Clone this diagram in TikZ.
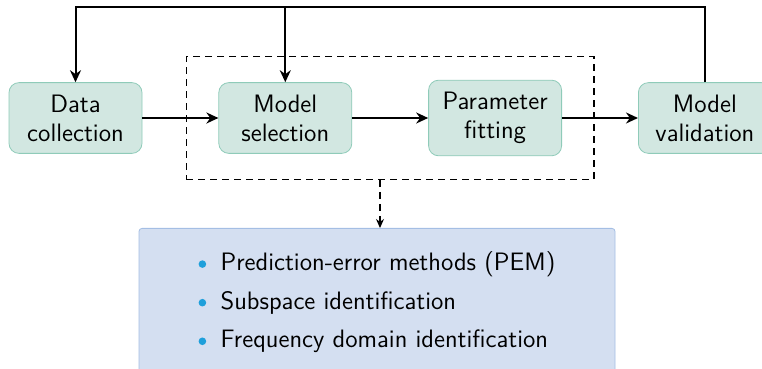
\documentclass[tikz,border=0pt]{standalone}
\usepackage{tikz}
\usetikzlibrary{arrows.meta, positioning, fit}
\usepackage{xcolor}

\definecolor{stagefill}{HTML}{D2E7E1}
\definecolor{stagedraw}{HTML}{8FCBB9}
\definecolor{listfill}{HTML}{D4DFF1}
\definecolor{listdraw}{HTML}{A4BEE4}
\definecolor{bulletblue}{HTML}{1E9FDB}

\newcommand{\itembullet}{\makebox[11pt][l]{\raisebox{0.25ex}{\tikz\fill[bulletblue] (0,0) circle (1.9pt);}}}

\begin{document}
\begin{tikzpicture}[
    x=1pt, y=1pt,
    font=\fontsize{12.6}{14.5}\selectfont\sffamily,
    node distance=38pt,
    stage/.style={rectangle, draw=stagedraw, fill=stagefill, rounded corners=5pt, align=center, minimum width=66.5pt, inner ysep=6pt},
    group/.style={draw, line width=0.65pt, dash pattern=on 3.5pt off 2.5pt, inner xsep=16pt, inner ysep=11.5pt},
    listbox/.style={rectangle, draw=listdraw, fill=listfill, rounded corners=1.5pt, align=left, minimum width=238pt, minimum height=74pt},
    arrow/.style={-{Stealth[length=6pt,width=5.5pt]}, line width=1pt}
]
\useasboundingbox (0,0) rectangle (381,-184.5);
\clip (0,0) rectangle (381,-184.5);

\node (data) [stage] at (37.75,-59) {Data\\collection};
\node (select) [stage, right=of data] {Model\\selection};
\node (param) [stage, right=of select] {Parameter\\fitting};
\node (valid) [stage, right=of param] {Model\\validation};

\node (group) [group, fit=(select)(param)] {};

\node (methods) [listbox, anchor=north] at (188.5,-114) {%
  \itembullet Prediction-error methods (PEM)\\[4.8pt]
  \itembullet Subspace identification\\[4.8pt]
  \itembullet Frequency domain identification};

\coordinate (fb) at (0,-3.5);

\draw [arrow] (data) -- (select);
\draw [arrow] (select) -- (param);
\draw [arrow] (param) -- (valid);
\draw [arrow] (valid.north) -- (valid.north |- fb) -- (data.north |- fb) -- (data.north);
\draw [arrow] (select.north |- fb) -- (select.north);
\draw [-{Stealth[length=4.5pt,width=4pt]}, line width=0.65pt, dash pattern=on 3.5pt off 2.5pt] (group.south -| 190,0) -- (methods.north -| 190,0);

\end{tikzpicture}
\end{document}
